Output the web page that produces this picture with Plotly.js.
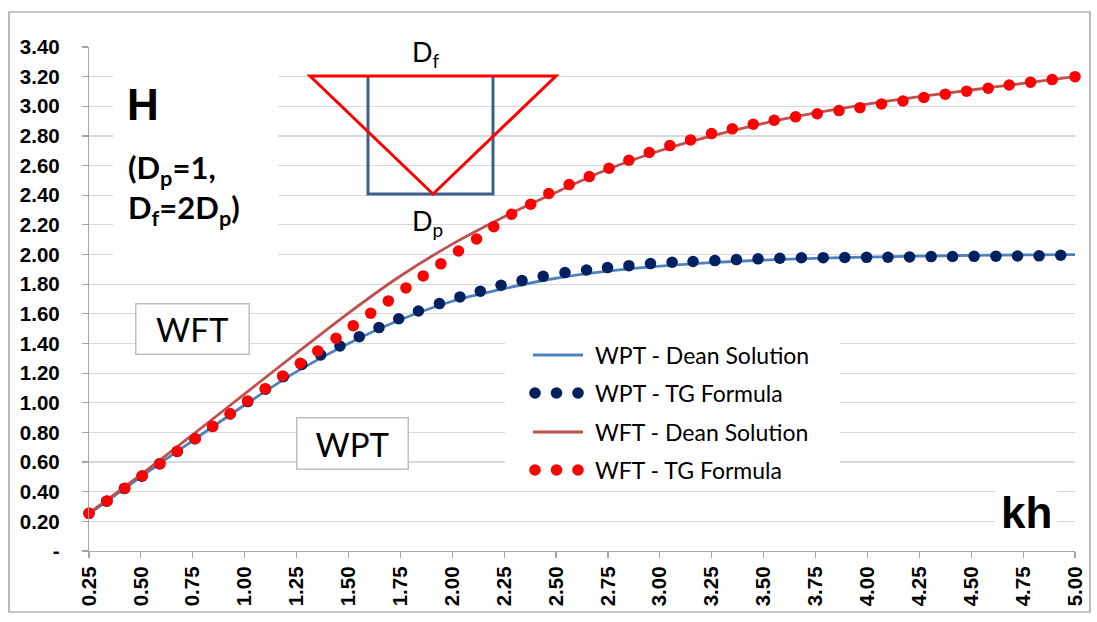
<!DOCTYPE html>
<html>
<head>
<meta charset="utf-8">
<script src="https://cdn.plot.ly/plotly-3.0.1.min.js"></script>
<style>html,body{margin:0;padding:0;background:#fff;}#chart{width:1097px;height:622px;}</style>
</head>
<body>
<div id="chart"></div>
<script>
// ---------- data ----------
const seriesNames = ["WPT - Dean Solution", "WPT - TG Formula", "WFT - Dean Solution", "WFT - TG Formula"];

const khWptDean = [0.25, 0.5, 0.75, 1.0, 1.25, 1.5, 1.75, 2.0, 2.25, 2.5, 2.75, 3.0, 3.25, 3.5, 3.75, 4.0, 4.25, 4.5, 4.75, 5.0];
const hWptDean  = [0.25, 0.50, 0.745, 0.985, 1.21, 1.40, 1.56, 1.685, 1.77, 1.84, 1.888, 1.922, 1.946, 1.962, 1.974, 1.983, 1.989, 1.994, 1.997, 2.0];

const khWptTG = [0.25, 0.335, 0.42, 0.505, 0.59, 0.675, 0.76, 0.845, 0.93, 1.015, 1.10, 1.186, 1.275,
  1.366, 1.459, 1.552, 1.647, 1.742, 1.837, 1.938, 2.037, 2.135, 2.235, 2.336, 2.438, 2.543, 2.647, 2.748,
  2.851, 2.955, 3.059, 3.160, 3.265, 3.369, 3.473, 3.578, 3.682, 3.787, 3.891, 3.996, 4.099, 4.203, 4.307,
  4.410, 4.514, 4.619, 4.723, 4.827, 4.931];
const hWptTG = [0.254, 0.336, 0.421, 0.505, 0.588, 0.671, 0.757, 0.840, 0.924, 1.008, 1.092, 1.176, 1.258,
  1.323, 1.383, 1.446, 1.507, 1.567, 1.619, 1.669, 1.714, 1.752, 1.793, 1.824, 1.853, 1.878, 1.896, 1.912,
  1.925, 1.939, 1.948, 1.953, 1.959, 1.966, 1.971, 1.975, 1.978, 1.979, 1.980, 1.981, 1.982, 1.984, 1.986,
  1.987, 1.988, 1.989, 1.990, 1.991, 1.995];

const khWftDean = [0.25, 0.5, 0.75, 1.0, 1.25, 1.5, 1.75, 2.0, 2.25, 2.5, 2.75, 3.0, 3.25, 3.5, 3.75, 4.0, 4.25, 4.5, 4.75, 5.0];
const hWftDean  = [0.255, 0.515, 0.785, 1.06, 1.335, 1.605, 1.855, 2.07, 2.255, 2.42, 2.575, 2.70, 2.80, 2.885, 2.955, 3.015, 3.065, 3.11, 3.155, 3.20];

const khWftTG = [0.25, 0.338, 0.423, 0.507, 0.592, 0.675, 0.762, 0.846, 0.931, 1.014, 1.099, 1.183, 1.268,
  1.352, 1.440, 1.523, 1.607, 1.692, 1.777, 1.860, 1.945, 2.030, 2.117, 2.200, 2.286, 2.378, 2.465, 2.563,
  2.660, 2.755, 2.851, 2.949, 3.048, 3.148, 3.249, 3.349, 3.450, 3.551, 3.654, 3.758, 3.863, 3.964, 4.068,
  4.171, 4.272, 4.375, 4.478, 4.582, 4.683, 4.786, 4.890, 5.0];
const hWftTG = [0.254, 0.337, 0.423, 0.508, 0.589, 0.673, 0.758, 0.841, 0.926, 1.012, 1.095, 1.181, 1.266,
  1.350, 1.435, 1.520, 1.604, 1.687, 1.775, 1.856, 1.937, 2.024, 2.105, 2.188, 2.272, 2.340, 2.412, 2.472,
  2.526, 2.582, 2.636, 2.688, 2.735, 2.773, 2.816, 2.848, 2.879, 2.906, 2.929, 2.950, 2.971, 2.991, 3.016,
  3.036, 3.059, 3.082, 3.102, 3.122, 3.144, 3.163, 3.180, 3.200];

const xTickVals = [0.25, 0.5, 0.75, 1.0, 1.25, 1.5, 1.75, 2.0, 2.25, 2.5, 2.75, 3.0, 3.25, 3.5, 3.75, 4.0, 4.25, 4.5, 4.75, 5.0];
const xTickText = ["0.25","0.50","0.75","1.00","1.25","1.50","1.75","2.00","2.25","2.50","2.75","3.00","3.25","3.50","3.75","4.00","4.25","4.50","4.75","5.00"];
const yTickVals = [0, 0.2, 0.4, 0.6, 0.8, 1.0, 1.2, 1.4, 1.6, 1.8, 2.0, 2.2, 2.4, 2.6, 2.8, 3.0, 3.2, 3.4];
const yTickText = ["-","0.20","0.40","0.60","0.80","1.00","1.20","1.40","1.60","1.80","2.00","2.20","2.40","2.60","2.80","3.00","3.20","3.40"];

// ---------- layout helpers ----------
const W = 1097, Hh = 622;
const M = {l: 89, r: 22, t: 47, b: 71};
const PW = W - M.l - M.r, PH = Hh - M.t - M.b;
const X0 = 0.25, X1 = 5.0, Y0 = 0, Y1 = 3.4;
const pX = px => (px - M.l) / PW;               // pixel -> paper
const pY = py => (M.t + PH - py) / PH;
const dX = px => X0 + (px - M.l) / PW * (X1 - X0); // pixel -> data (decorations only)
const dY = py => Y0 + (M.t + PH - py) / PH * (Y1 - Y0);

const C_WPT_LINE = "#4F81BD", C_WPT_DOT = "#002060", C_WFT_LINE = "#C0504D", C_WFT_DOT = "#FF0000";
const CAL = "Lato, 'Open Sans', sans-serif";
const ARB = "'Liberation Sans', Arial, sans-serif";

const traces = [
  {x: khWptDean, y: hWptDean, name: seriesNames[0], mode: "lines", line: {color: C_WPT_LINE, width: 2.8, shape: "spline", smoothing: 0.8}, cliponaxis: false},
  {x: khWptTG, y: hWptTG, name: seriesNames[1], mode: "markers", marker: {color: C_WPT_DOT, size: 11.5}, cliponaxis: false},
  {x: khWftDean, y: hWftDean, name: seriesNames[2], mode: "lines", line: {color: C_WFT_LINE, width: 2.8, shape: "spline", smoothing: 0.8}, cliponaxis: false},
  {x: khWftTG, y: hWftTG, name: seriesNames[3], mode: "markers", marker: {color: C_WFT_DOT, size: 11.5}, cliponaxis: false}
];

const shapes = [
  // outer chart border
  {type: "rect", xref: "paper", yref: "paper", x0: pX(9), x1: pX(1090), y0: pY(612), y1: pY(12), line: {color: "#8C8C8C", width: 1.2}, fillcolor: "rgba(0,0,0,0)", layer: "above"},
  // white backgrounds of text boxes (hide gridlines)
  {type: "rect", xref: "x", yref: "y", x0: dX(113), x1: dX(278), y0: dY(270), y1: dY(62), line: {width: 0}, fillcolor: "#fff", layer: "between"},
  {type: "rect", xref: "x", yref: "y", x0: dX(398), x1: dX(456), y0: dY(66), y1: dY(40), line: {width: 0}, fillcolor: "#fff", layer: "between"},
  {type: "rect", xref: "x", yref: "y", x0: dX(505), x1: dX(840), y0: dY(490), y1: dY(335), line: {width: 0}, fillcolor: "#fff", layer: "between"},
  {type: "rect", xref: "x", yref: "y", x0: dX(995), x1: dX(1057), y0: dY(535), y1: dY(490), line: {width: 0}, fillcolor: "#fff", layer: "between"},
  // sketch: pile (rectangle) and footing (triangle)
  {type: "path", xref: "x", yref: "y", path: `M ${dX(368)} ${dY(76)} L ${dX(368)} ${dY(194)} L ${dX(493)} ${dY(194)} L ${dX(493)} ${dY(76)}`, line: {color: "#3C5F8E", width: 3}, layer: "above"},
  {type: "path", xref: "x", yref: "y", path: `M ${dX(310)} ${dY(76)} L ${dX(556)} ${dY(76)} L ${dX(433)} ${dY(194)} Z`, line: {color: "#FF0000", width: 3}, layer: "above"},
  // legend symbols
  {type: "line", xref: "paper", yref: "paper", x0: pX(533), x1: pX(583), y0: pY(355), y1: pY(355), line: {color: C_WPT_LINE, width: 3}, layer: "above"},
  {type: "line", xref: "paper", yref: "paper", x0: pX(533), x1: pX(583), y0: pY(432), y1: pY(432), line: {color: C_WFT_LINE, width: 3}, layer: "above"}
];
[535, 556.5, 578].forEach(cx => {
  const r = 5.8;
  shapes.push({type: "circle", xref: "paper", yref: "paper", x0: pX(cx - r), x1: pX(cx + r), y0: pY(393 + r), y1: pY(393 - r), fillcolor: C_WPT_DOT, line: {width: 0}, layer: "above"});
  shapes.push({type: "circle", xref: "paper", yref: "paper", x0: pX(cx - r), x1: pX(cx + r), y0: pY(470 + r), y1: pY(470 - r), fillcolor: C_WFT_DOT, line: {width: 0}, layer: "above"});
});

const ann = (text, x, y, font, extra) => Object.assign({text: text, xref: "paper", yref: "paper", x: pX(x), y: pY(y), showarrow: false, font: font, xanchor: "center", yanchor: "middle"}, extra || {});

const annotations = [
  ann("H", 143, 104, {family: ARB, size: 44, color: "#000", weight: "bold"}),
  ann("(D<sub>p</sub>=1,<br>D<sub>f</sub>=2D<sub>p</sub>)", 126, 189, {family: CAL, size: 31, color: "#000", weight: "bold"}, {xanchor: "left", align: "left"}),
  ann("D<sub>f</sub>", 426, 54, {family: CAL, size: 27, color: "#000"}),
  ann("D<sub>p</sub>", 427, 222, {family: CAL, size: 27, color: "#000"}),
  ann("kh", 1026, 512, {family: ARB, size: 44, color: "#000", weight: "bold"}),
  ann("WFT", 192, 329, {family: CAL, size: 33, color: "#000"}, {bgcolor: "#fff", bordercolor: "#BFBFBF", borderwidth: 1.5, width: 110, height: 47}),
  ann("WPT", 352, 443, {family: CAL, size: 33, color: "#000"}, {bgcolor: "#fff", bordercolor: "#BFBFBF", borderwidth: 1.5, width: 108, height: 48})
];
[355, 393, 432, 470].forEach((yy, i) => {
  annotations.push(ann(seriesNames[i], 593, yy, {family: CAL, size: 23, color: "#000"}, {xanchor: "left"}));
});

const layout = {
  width: W, height: Hh,
  margin: M,
  paper_bgcolor: "#fff", plot_bgcolor: "#fff",
  showlegend: false,
  xaxis: {
    range: [X0, X1], tickvals: xTickVals, ticktext: xTickText, tickangle: -90,
    showgrid: false, zeroline: false, showline: true, linecolor: "#A6A6A6", linewidth: 1.2,
    ticks: "outside", ticklen: 6, tickcolor: "#A6A6A6", tickwidth: 1.2,
    tickfont: {family: ARB, size: 20.5, color: "#000", weight: "bold"}, automargin: false, fixedrange: true
  },
  yaxis: {
    range: [Y0, Y1], tickvals: yTickVals, ticktext: yTickText,
    showgrid: true, gridcolor: "#D9D9D9", gridwidth: 1.2, zeroline: false,
    showline: true, linecolor: "#A6A6A6", linewidth: 1.2,
    ticks: "outside", ticklen: 6, tickcolor: "#A6A6A6", tickwidth: 1.2, ticklabelstandoff: 18,
    tickfont: {family: ARB, size: 20.5, color: "#000", weight: "bold"}, automargin: false, fixedrange: true
  },
  shapes: shapes,
  annotations: annotations
};

Plotly.newPlot("chart", traces, layout, {displayModeBar: false, staticPlot: true});
</script>
</body>
</html>
